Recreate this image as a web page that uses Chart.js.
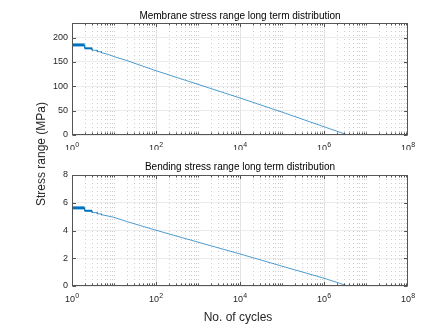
<!DOCTYPE html>
<html><head><meta charset="utf-8">
<script src="https://cdn.jsdelivr.net/npm/chart.js@4.4.0/dist/chart.umd.min.js"></script>
<style>
html,body{margin:0;padding:0;background:#fff;width:429px;height:333px;overflow:hidden;font-family:'Liberation Sans',Arial,sans-serif}
.c{position:absolute;left:0;width:429px}
canvas{display:block}
.lab{position:absolute;transform:translate(-50%,-50%);white-space:nowrap;color:#262626}
.ttl{position:absolute;transform:translate(-50%,-50%);white-space:nowrap;color:#000;font-size:10px}
#ylab{left:41px;top:154px;transform:translate(-50%,-50%) rotate(-90deg);font-size:12px}
#xlab{left:238px;top:317px;font-size:12px}
</style></head><body>
<div class="c" style="top:0;height:150px"><canvas id="c1" width="429" height="150"></canvas></div>
<div class="c" style="top:150px;height:183px"><canvas id="c2" width="429" height="183"></canvas></div>
<div class="ttl" id="t1" style="left:240px;top:15px"></div>
<div class="ttl" id="t2" style="left:240px;top:166px"></div>
<div class="lab" id="ylab">Stress range (MPa)</div>
<div class="lab" id="xlab">No. of cycles</div>
<script>
// ---- data ----
const cycles = [1, 2, 2, 3, 3, 4, 4, 5, 5, 7, 10, 20, 50, 100, 1000, 1e4, 1e5, 1e6, 3.7e6];
const membraneStress = [185, 185, 178, 178, 174, 174, 171, 171, 169, 166, 161, 153, 141, 132, 104, 76, 47, 17, 0];
const bendingStress = [5.63, 5.63, 5.42, 5.42, 5.29, 5.29, 5.2, 5.2, 5.14, 5.05, 4.95, 4.65, 4.29, 4.02, 3.16, 2.31, 1.43, 0.56, 0];
const xTickExponents = [0, 2, 4, 6, 8];
const membraneTicks = [0, 50, 100, 150, 200];
const bendingTicks = [0, 2, 4, 6, 8];
const titles = ['Membrane stress range long term distribution', 'Bending stress range long term distribution'];

document.getElementById('t1').textContent = titles[0];
document.getElementById('t2').textContent = titles[1];

const FONT = "'Liberation Sans', Arial, sans-serif";
const AX = '#262626';

const matlabAxes = {
  id: 'matlabAxes',
  beforeDatasetsDraw(chart) {
    const {ctx, chartArea: a, scales: {x}} = chart;
    ctx.save();
    ctx.lineWidth = 1;
    for (let k = 0; k < 8; k++) {
      for (let m = 1; m <= 9; m++) {
        const v = m * Math.pow(10, k);
        const major = (m === 1 && k % 2 === 0);
        const px = Math.round(x.getPixelForValue(v)) + 0.5;
        if (px <= a.left + 1 || px >= a.right - 1) continue;
        ctx.beginPath();
        if (major) { ctx.setLineDash([]); ctx.strokeStyle = '#e3e3e3'; }
        else { ctx.setLineDash([1, 3]); ctx.strokeStyle = '#cfcfcf'; }
        ctx.moveTo(px, a.top); ctx.lineTo(px, a.bottom); ctx.stroke();
      }
    }
    ctx.restore();
  },
  afterDatasetsDraw(chart) {
    const {ctx, chartArea: a, scales: {x, y}} = chart;
    ctx.save();
    ctx.strokeStyle = '#555'; ctx.lineWidth = 1; ctx.setLineDash([]);
    const L = Math.round(a.left) + 0.5, R = Math.round(a.right) - 0.5, T = Math.round(a.top) + 0.5, B = Math.round(a.bottom) - 0.5;
    ctx.strokeRect(L, T, R - L, B - T);
    ctx.beginPath();
    for (let k = 0; k < 8; k++) {
      for (let m = 1; m <= 9; m++) {
        const v = m * Math.pow(10, k);
        const len = (m === 1 && k % 2 === 0) ? 3.5 : 2;
        const px = Math.round(x.getPixelForValue(v)) + 0.5;
        ctx.moveTo(px, B); ctx.lineTo(px, B - len);
        ctx.moveTo(px, T); ctx.lineTo(px, T + len);
      }
    }
    for (const t of y.ticks) {
      const py = Math.round(y.getPixelForValue(t.value)) + 0.5;
      ctx.moveTo(L, py); ctx.lineTo(L + 3.5, py);
      ctx.moveTo(R, py); ctx.lineTo(R - 3.5, py);
    }
    ctx.stroke();
    // x tick labels 10^k
    ctx.fillStyle = AX;
    ctx.textBaseline = 'alphabetic';
    for (const e of xTickExponents) {
      const px = x.getPixelForValue(Math.pow(10, e));
      ctx.font = '9px ' + FONT;
      const w1 = ctx.measureText('10').width;
      ctx.font = '7px ' + FONT;
      const w2 = ctx.measureText(String(e)).width;
      const start = px - (w1 + w2) / 2;
      const base = a.bottom + 15.5;
      ctx.font = '9px ' + FONT;
      ctx.textAlign = 'left';
      ctx.fillText('10', start, base);
      ctx.font = '7px ' + FONT;
      ctx.fillText(String(e), start + w1 + 0.3, base - 3.5);
    }
    ctx.restore();
  }
};

function makeChart(id, values, yTicks, yMax, topPad, xHeight) {
  return new Chart(document.getElementById(id), {
    type: 'line',
    data: {
      labels: cycles,
      datasets: [{
        data: cycles.map((c, i) => ({x: c, y: values[i]})),
        borderColor: '#0072BD',
        borderWidth: 0.7,
        pointRadius: 0,
        fill: false,
        tension: 0,
        segment: {
          borderWidth: ctx => ctx.p0DataIndex === 0 ? 3 : (ctx.p0DataIndex === 2 ? 2 : 0.7)
        }
      }]
    },
    options: {
      responsive: false,
      animation: false,
      devicePixelRatio: 1,
      layout: {padding: {left: 0, right: 21, top: topPad, bottom: 0}},
      plugins: {
        legend: {display: false},
        tooltip: {enabled: false},
        title: {display: false}
      },
      scales: {
        x: {
          type: 'logarithmic', min: 1, max: 1e8,
          grid: {display: false},
          border: {display: false},
          ticks: {display: false},
          afterFit: s => { s.height = xHeight; }
        },
        y: {
          type: 'linear', min: 0, max: yMax,
          afterBuildTicks: s => { s.ticks = yTicks.map(v => ({value: v})); },
          grid: {color: '#ebebeb', drawTicks: false, lineWidth: 1},
          border: {display: false},
          ticks: {color: AX, font: {size: 9, family: FONT}, padding: 4},
          afterFit: s => { s.width = 72; }
        }
      }
    },
    plugins: [matlabAxes]
  });
}

makeChart('c1', membraneStress, membraneTicks, 230, 23, 15);
makeChart('c2', bendingStress, bendingTicks, 8, 25, 47);
</script>
</body></html>
